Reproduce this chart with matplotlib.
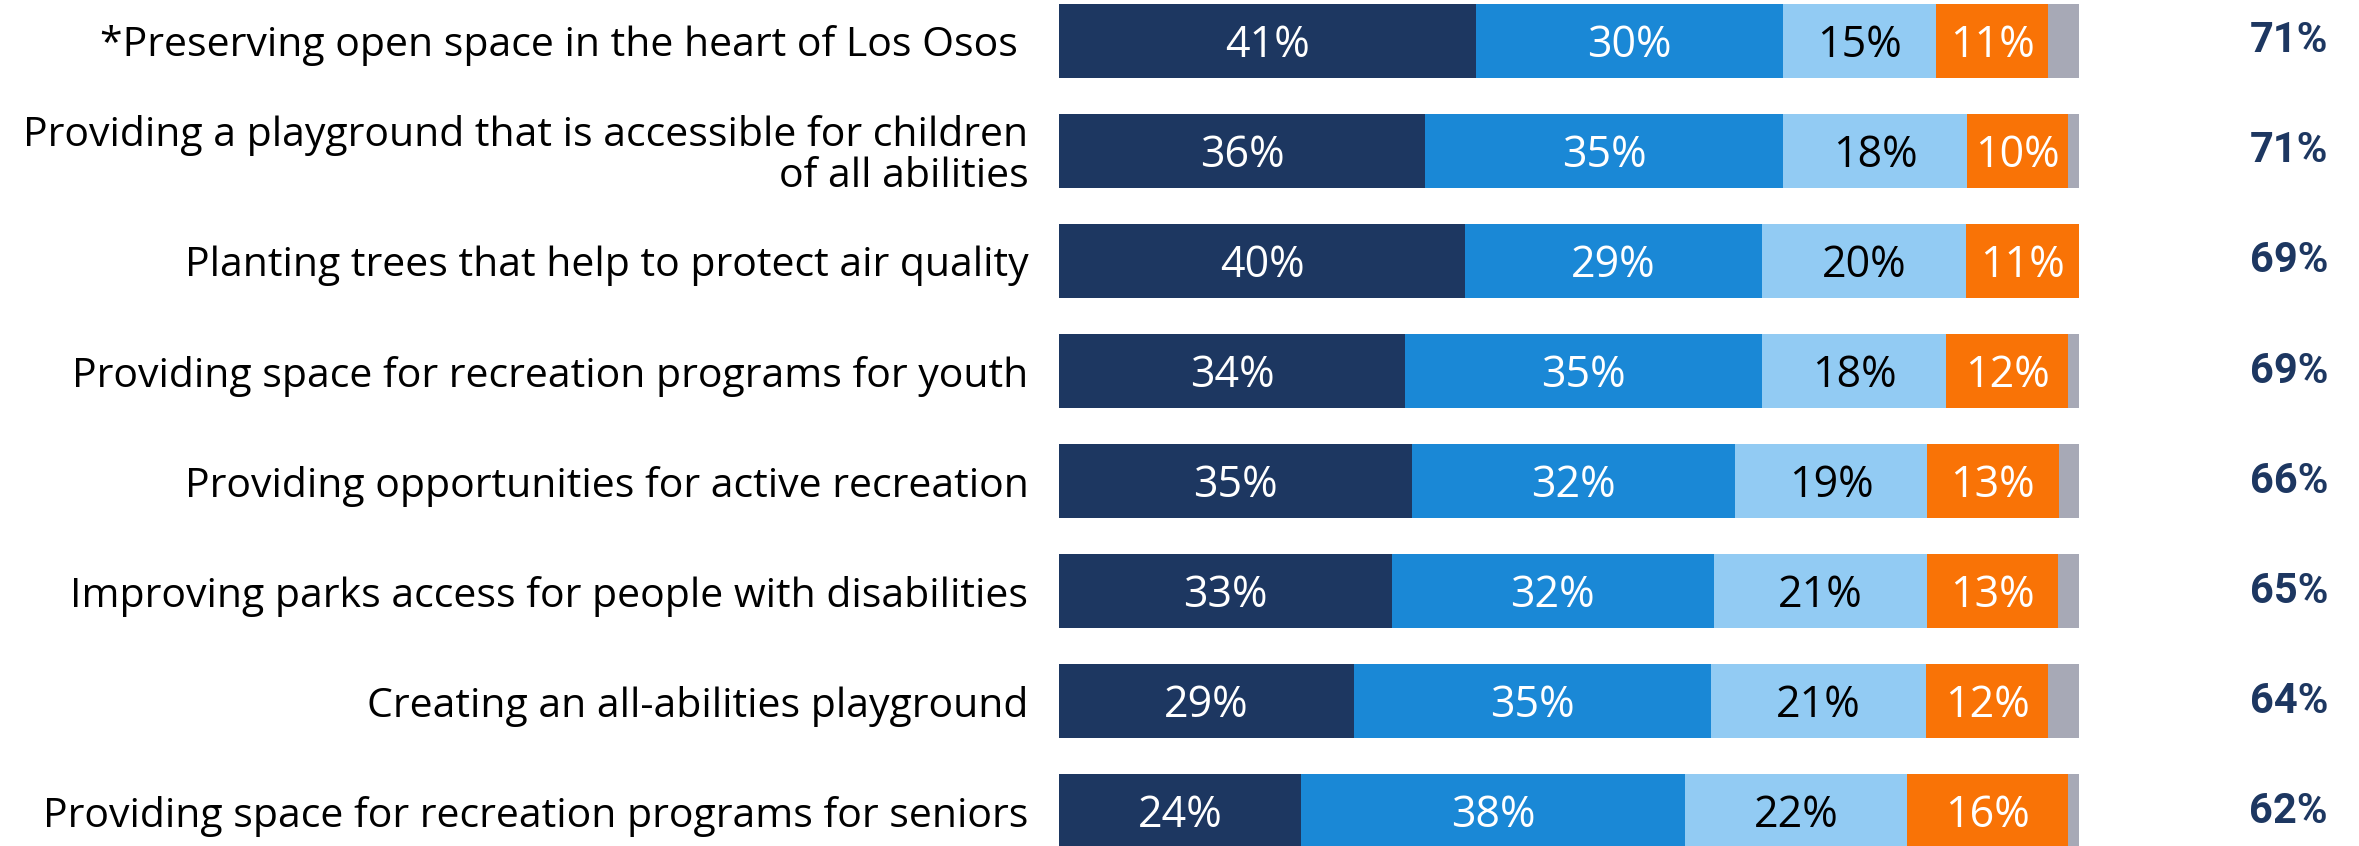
import numpy as np
import matplotlib.pyplot as plt

categories = [
    "*Preserving open space in the heart of Los Osos ",
    "Providing a playground that is accessible for children\nof all abilities",
    "Planting trees that help to protect air quality",
    "Providing space for recreation programs for youth",
    "Providing opportunities for active recreation",
    "Improving parks access for people with disabilities",
    "Creating an all-abilities playground",
    "Providing space for recreation programs for seniors",
]

# segment shares (%)
very_important = [40.9, 35.9, 39.8, 33.9, 34.6, 32.6, 28.9, 23.75]
somewhat_important = [30.1, 35.1, 29.1, 35.0, 31.7, 31.6, 35.0, 37.6]
slightly_important = [15.0, 18.0, 20.0, 18.1, 18.8, 20.9, 21.1, 21.8]
not_important = [11.0, 9.9, 11.1, 11.9, 12.9, 12.8, 12.0, 15.8]
dont_know = [3.0, 1.1, 0.0, 1.1, 2.0, 2.1, 3.0, 1.1]
net_important = [71, 71, 69, 69, 66, 65, 64, 62]

series = [very_important, somewhat_important, slightly_important, not_important, dont_know]
colors = ["#1D3761", "#1A88D6", "#92CBF3", "#F97306", "#A7A9B6"]
text_colors = ["white", "white", "black", "white", None]

W, H = 2359, 846
fig = plt.figure(figsize=(W / 100, H / 100), dpi=100)
ax = fig.add_axes([1059 / W, 0, 1020 / W, 1])

y = np.arange(len(categories))
left = np.zeros(len(categories))
for vals, col, tcol in zip(series, colors, text_colors):
    vals = np.array(vals)
    ax.barh(y, vals, left=left, height=0.673, color=col, edgecolor="none")
    if tcol is not None:
        for yi, l, v in zip(y, left, vals):
            ax.text(l + v / 2, yi + 0.04, f"{v:.0f}%", ha="center", va="center",
                    color=tcol, fontsize=31, family="Open Sans")
    left += vals

for yi, n in zip(y, net_important):
    ax.text(124.4, yi, f"{n}%", ha="right", va="center", color="#1D3761",
            fontsize=30, fontweight="bold", family="Roboto", clip_on=False)

ax.set_xlim(0, 100)
ax.set_ylim((H - 41) / 110, -41 / 110)
ax.set_yticks(y)
ax.set_yticklabels(categories, fontsize=29.5, family="Open Sans", linespacing=1.0)
ax.tick_params(axis="y", length=0, pad=22)
ax.set_xticks([])
for s in ax.spines.values():
    s.set_visible(False)

fig.savefig("out.png", dpi=100)
